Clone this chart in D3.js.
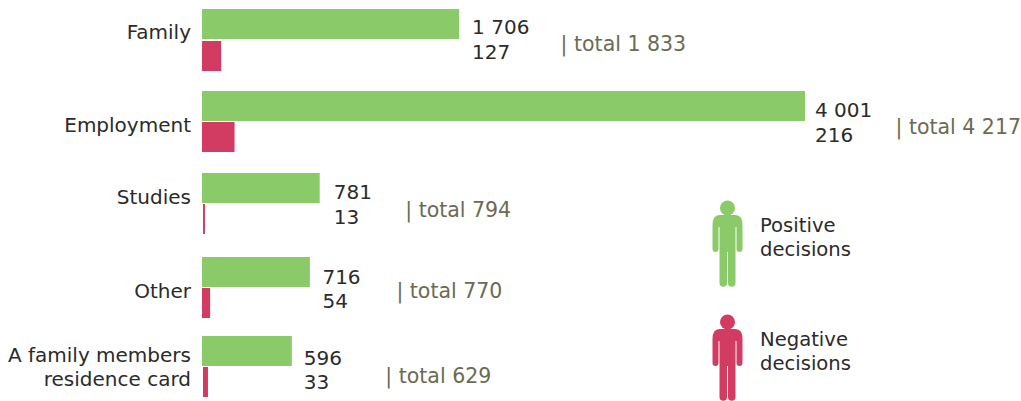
<!DOCTYPE html>
<html>
<head>
<meta charset="utf-8">
<script src="https://cdn.jsdelivr.net/npm/d3@7"></script>
<style>
    html, body { margin: 0; padding: 0; background: #fff; }
    text { font-family: "DejaVu Sans", sans-serif; font-size: 20px; fill: #2b2b2b; }
    .total { fill: #6b6b52; font-size: 20.5px; }
    .legend text { font-size: 19.6px; }
</style>
</head>
<body>
<div id="chart"></div>
<script>
const categories = ["Family", "Employment", "Studies", "Other", "A family members|residence card"];
const positive = [1706, 4001, 781, 716, 596];
const negative = [127, 216, 13, 54, 33];
const totals = [1833, 4217, 794, 770, 629];

const green = "#8aca68", red = "#d23c63";
const width = 1021, height = 401;

const svg = d3.select("#chart").append("svg")
    .attr("width", width)
    .attr("height", height)
    .style("display", "block");

// rows and labels are not evenly placed in the original
const rowTop = d3.scaleOrdinal().domain(categories).range([9, 91, 173, 257, 336]);
const redNudge = d3.scaleOrdinal().domain(categories).range([0, 0, 1, 0, 1]);
const redY = d3.scaleOrdinal().domain(categories).range([32, 31, 31, 31, 31]);
const labelY = d3.scaleOrdinal().domain(categories).range([30, 41, 31, 41, 26]);
const valueX = d3.scaleOrdinal().domain(categories).range([13, 10, 14, 12.5, 12]);
const valueY = d3.scaleOrdinal().domain(categories).range([25, 26, 26, 26.5, 28.5]);
const totalX = d3.scaleOrdinal().domain(categories).range([101.5, 90.5, 85.5, 86.5, 93.5]);
const totalY = d3.scaleOrdinal().domain(categories).range([42, 43, 44, 41, 47]);

const x = d3.scaleLinear().domain([0, 4001]).range([202, 805]);
const barH = 30;

// number format with a space for thousands
const fmt = d3.formatLocale({ thousands: " ", grouping: [3], decimal: ".", currency: ["", ""] }).format(",");

const rows = svg.selectAll("g.row")
    .data(categories.map((c, i) => ({ c, pos: positive[i], neg: negative[i], total: totals[i] })))
    .enter().append("g")
    .attr("class", "row")
    .attr("transform", d => `translate(0,${rowTop(d.c)})`);

rows.append("rect")
    .attr("x", x(0))
    .attr("y", 0)
    .attr("width", d => x(d.pos) - x(0))
    .attr("height", barH)
    .attr("fill", green);

rows.append("rect")
    .attr("x", d => x(0) + redNudge(d.c))
    .attr("y", d => redY(d.c))
    .attr("width", d => x(d.neg) - x(0))
    .attr("height", barH)
    .attr("fill", red);

// category labels, two lines for the long one
rows.each(function(d) {
    const t = d3.select(this).append("text")
        .attr("text-anchor", "end")
        .attr("y", labelY(d.c));
    d.c.split("|").forEach((l, i) => {
        t.append("tspan").attr("x", 191).attr("dy", i ? 24 : 0).text(l);
    });
});

rows.append("text")
    .attr("x", d => x(d.pos) + valueX(d.c))
    .attr("y", d => valueY(d.c))
    .text(d => fmt(d.pos));

rows.append("text")
    .attr("x", d => x(d.pos) + valueX(d.c))
    .attr("y", d => valueY(d.c) + 24.5)
    .text(d => fmt(d.neg));

rows.append("text")
    .attr("class", "total")
    .attr("x", d => x(d.pos) + totalX(d.c))
    .attr("y", d => totalY(d.c))
    .text(d => "| total " + fmt(d.total));

// person icons for the legend
const personPath = "M-8,0H8Q15,0 15,10V34a3,3 0 0 1 -6,0V12H8V68a3.75,3.75 0 0 1 -7.5,0V37H-0.5V68a3.75,3.75 0 0 1 -7.5,0V12H-9V34a3,3 0 0 1 -6,0V10Q-15,0 -8,0Z";

const legend = svg.selectAll("g.legend")
    .data([
        { color: green, top: 215, lines: ["Positive", "decisions"] },
        { color: red, top: 329, lines: ["Negative", "decisions"] }
    ])
    .enter().append("g")
    .attr("class", "legend")
    .attr("transform", d => `translate(727.5,${d.top})`);

legend.append("circle")
    .attr("cy", -7)
    .attr("r", 7.5)
    .attr("fill", d => d.color);

legend.append("path")
    .attr("d", personPath)
    .attr("fill", d => d.color);

legend.each(function(d) {
    const t = d3.select(this).append("text");
    d.lines.forEach((l, i) => {
        t.append("tspan").attr("x", 32.5).attr("y", 17 + i * 24).text(l);
    });
});
</script>
</body>
</html>
